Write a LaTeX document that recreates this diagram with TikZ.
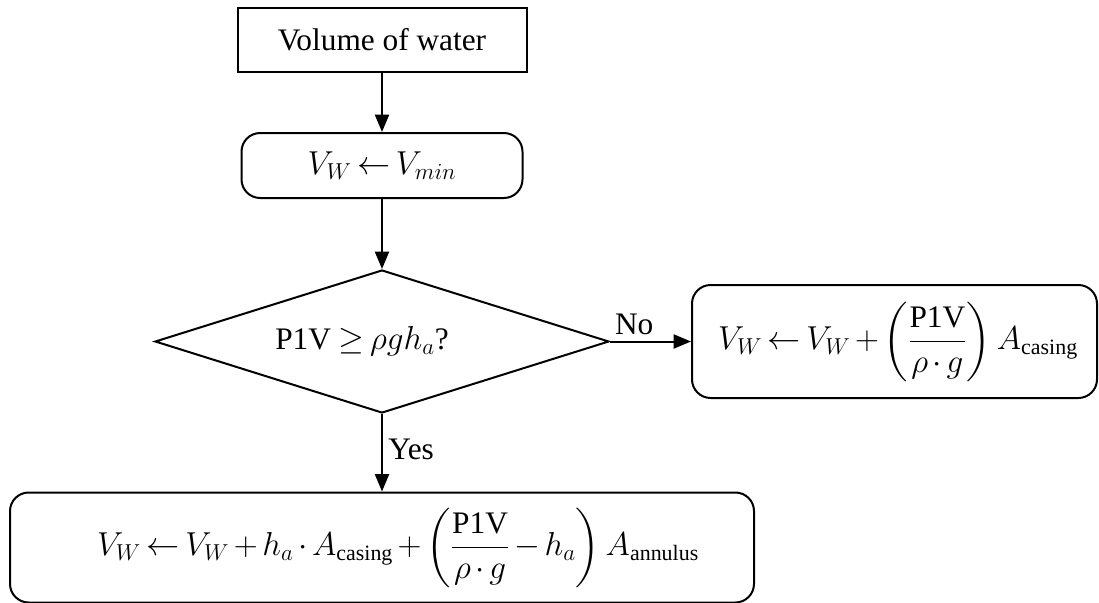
\documentclass[tikz,border=0pt]{standalone}
\usepackage{fontspec}
\usepackage{amsmath}
\setmainfont{Liberation Serif}
\usetikzlibrary{shapes.geometric,arrows.meta}
\thickmuskip=3mu plus 2mu
\medmuskip=2.5mu plus 1mu
\begin{document}
\begin{tikzpicture}[x=0.75pt,y=-0.75pt,
  every node/.style={font=\fontsize{23.5}{28}\selectfont},
  box/.style={draw, line width=1.5pt, inner sep=0pt},
  rbox/.style={box, rounded corners=14pt},
  decision/.style={draw, line width=1.5pt, shape=diamond, inner sep=0pt},
  arr/.style={line width=1.5pt, -{Triangle[length=13pt,width=10.5pt]}},
  lbl/.style={inner sep=0pt}
]
\useasboundingbox (0,0) rectangle (1099,603);

\node[box, minimum width=216.75pt, minimum height=48pt] (start) at (382,39.5) {Volume of water};
\node[rbox, minimum width=210.75pt, minimum height=48.75pt] (init) at (382,165.5) {$V_W \leftarrow V_{min}$};
\node[decision, minimum width=340.5pt, minimum height=107.25pt] (dec) at (382,341.5) {};
\node[lbl] (q) at (362,341.5) {P1V $\geq \rho g h_a$?};
\node[rbox, minimum width=303.75pt, minimum height=84.75pt] (rres) at (894.5,341.5) {};
\node[lbl] (rtext) at (898,341.5)
  {$V_W \leftarrow V_W + \left(\dfrac{\mathrm{P1V}}{\rho\cdot g}\right) A_{\mathrm{casing}}$};
\node[rbox, minimum width=558pt, minimum height=82.5pt] (bres) at (382,547.5) {};
\node[lbl] (btext) at (398,547.5)
  {$V_W \leftarrow V_W + h_a\cdot A_{\mathrm{casing}} + \left(\dfrac{\mathrm{P1V}}{\rho\cdot g} - h_a\right) A_{\mathrm{annulus}}$};

\draw[arr] (start.south) -- (init.north);
\draw[arr] (init.south) -- (dec.north);
\draw[arr] (dec.east) -- node[pos=0, anchor=south west, inner sep=0pt, xshift=3pt, yshift=4pt] (no) {No} (rres.west);
\draw[arr] (dec.south) -- node[pos=0.46, anchor=west, inner sep=0pt, xshift=4pt] (yes) {Yes} (bres.north);
\end{tikzpicture}
\end{document}
